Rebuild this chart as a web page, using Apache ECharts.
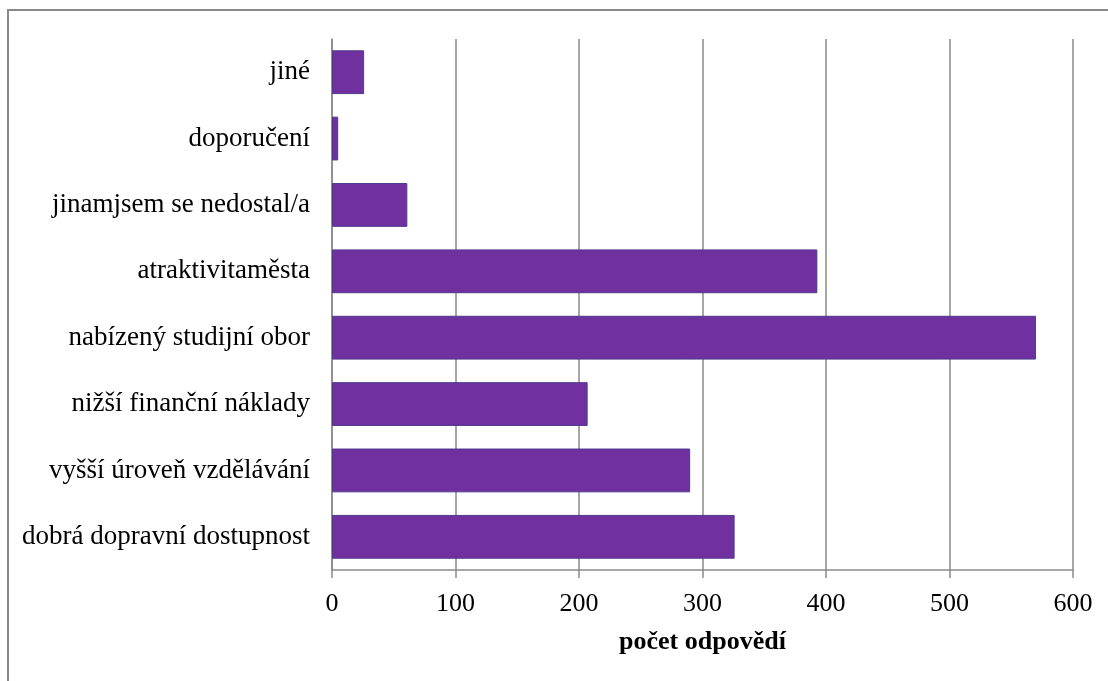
<!DOCTYPE html>
<html>
<head>
<meta charset="utf-8">
<script src="https://cdn.jsdelivr.net/npm/echarts@6/dist/echarts.min.js"></script>
<style>html,body{margin:0;padding:0;background:#fff}#c{width:1108px;height:681px}</style>
</head>
<body>
<div id="c"></div>
<script>
const categories = ["dobrá dopravní dostupnost","vyšší úroveň vzdělávání","nižší finanční náklady","nabízený studijní obor","atraktivitaměsta","jinamjsem se nedostal/a","doporučení","jiné"];
const values = [326, 290, 207, 570, 393, 61, 5, 26];
const xTicks = {min: 0, max: 600, interval: 100};
const axisTitle = "počet odpovědí";

const chart = echarts.init(document.getElementById('c'), null, {renderer: 'canvas'});
const font = "'Liberation Serif', 'Times New Roman', serif";
chart.setOption({
  animation: false,
  backgroundColor: '#fff',
  graphic: [{type: 'rect', shape: {x: 8, y: 10, width: 1200, height: 800}, style: {fill: 'none', stroke: '#898989', lineWidth: 2}}],
  grid: {left: 332, right: 35, top: 39, bottom: 111, containLabel: false},
  xAxis: {
    type: 'value', min: xTicks.min, max: xTicks.max, interval: xTicks.interval,
    name: axisTitle, nameLocation: 'middle', nameGap: 59,
    nameTextStyle: {fontFamily: font, fontSize: 26, fontWeight: 'bold', color: '#000'},
    axisLine: {show: true, lineStyle: {color: '#8a8a8a', width: 1.5}},
    axisTick: {show: true, length: 8, lineStyle: {color: '#8a8a8a', width: 1.5}},
    axisLabel: {fontFamily: font, fontSize: 26, color: '#000', margin: 21},
    splitLine: {show: true, lineStyle: {color: '#8a8a8a', width: 1.5}}
  },
  yAxis: {
    type: 'category', data: categories,
    axisLine: {show: true, lineStyle: {color: '#8a8a8a', width: 1.5}},
    axisTick: {show: false},
    axisLabel: {fontFamily: font, fontSize: 27, color: '#000', margin: 22}
  },
  series: [{
    type: 'bar', data: values, barCategoryGap: '34%',
    itemStyle: {color: '#7030A0', borderColor: '#4b3b8c', borderWidth: 1}
  }]
});
</script>
</body>
</html>
